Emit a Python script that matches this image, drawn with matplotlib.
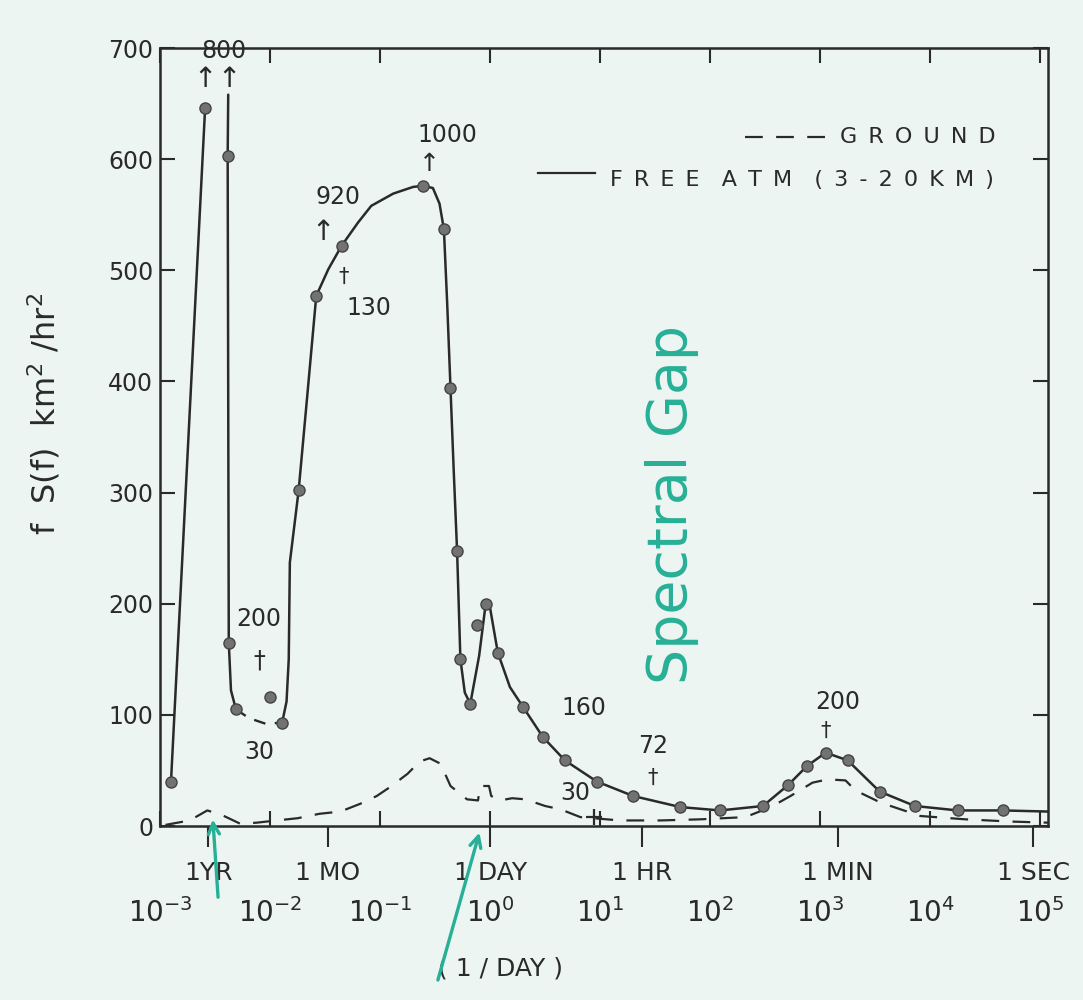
"""Wind speed spectrum (free atmosphere vs ground), redrawn from a scanned figure."""

import numpy as np
import matplotlib.pyplot as plt

# x values are log10 of frequency in 1/day, y values are f S(f) in km^2/hr^2
spike_up_logf = [-2.90, -2.59]
spike_up_val = [40, 646]
spike_down_logf = [-2.38, -2.385, -2.375, -2.355, -2.31]
spike_down_val = [658, 603, 165, 122, 105]
trough_logf = [-2.31, -2.19, -2.04, -1.89]
trough_val = [105, 97, 92, 93]

free_logf = [-1.89, -1.85, -1.83, -1.82, -1.74, -1.66, -1.58, -1.47, -1.35, -1.20,
             -1.08, -0.88, -0.70, -0.61, -0.52, -0.46, -0.42, -0.39, -0.36, -0.33,
             -0.30, -0.27, -0.23, -0.18, -0.10, -0.04, 0.00, 0.07, 0.18, 0.30,
             0.48, 0.68, 0.97, 1.30, 1.73, 2.09, 2.48, 2.71, 2.88, 3.05,
             3.25, 3.54, 3.86, 4.25, 4.66, 5.07]
free_val = [93, 112, 150, 237, 302, 389, 477, 501, 522, 543,
            558, 569, 575, 576, 574, 560, 537, 470, 394, 318,
            247, 150, 120, 110, 153, 200, 196, 156, 125, 107,
            80, 59, 40, 27, 17, 14, 18, 37, 54, 66,
            59, 31, 18, 14, 14, 13]

free_pts_logf = [-2.90, -2.59, -2.385, -2.375, -2.31, -1.89, -1.74, -1.58, -1.35, -0.61,
                 -0.42, -0.36, -0.30, -0.27, -0.18, -0.04, 0.07, 0.30, 0.48, 0.68,
                 0.97, 1.30, 1.73, 2.09, 2.48, 2.71, 2.88, 3.05, 3.25, 3.54,
                 3.86, 4.25, 4.66]
free_pts_val = [40, 646, 603, 165, 105, 93, 302, 477, 522, 576,
                537, 394, 247, 150, 110, 200, 156, 107, 80, 59,
                40, 27, 17, 14, 18, 37, 54, 66, 59, 31,
                18, 14, 14]
extra_pts_logf = [-2.00, -0.12]
extra_pts_val = [116, 181]

ground_logf = [-2.95, -2.73, -2.57, -2.44, -2.27, -2.12, -1.94, -1.75, -1.55, -1.36,
               -1.18, -1.03, -0.91, -0.75, -0.64, -0.55, -0.45, -0.36, -0.21, -0.11,
               -0.09, -0.01, 0.01, 0.09, 0.20, 0.32, 0.50, 0.64, 0.82, 1.18,
               1.55, 1.91, 2.32, 2.55, 2.73, 2.93, 3.07, 3.23, 3.32, 3.55,
               3.91, 4.32, 4.73, 5.07]
ground_val = [1, 5, 14, 10, 2, 3, 5, 7, 11, 13,
              20, 27, 35, 47, 58, 61, 56, 36, 24, 23,
              36, 36, 27, 23, 25, 24, 18, 15, 8, 5,
              5, 6, 8, 17, 27, 39, 42, 41, 32, 21,
              9, 6, 4, 3]
cross_logf = [0.94]
cross_val = [8]

period_freq = [1 / 365.25, 1 / 30.0, 1.0, 24.0, 1440.0, 86400.0]
period_labels = ["1YR", "1 MO", "1 DAY", "1 HR", "1 MIN", "1 SEC"]
decades = [-3, -2, -1, 0, 1, 2, 3, 4, 5]
y_ticks = [0, 100, 200, 300, 400, 500, 600, 700]

# handwritten values next to the curves: (text, log10 f, value, fontsize)
notes = [
    ("800", -2.42, 697, 17), ("\u2191", -2.59, 672, 20), ("\u2191", -2.375, 672, 20),
    ("920", -1.38, 566, 17), ("\u2191", -1.515, 534, 20),
    ("130", -1.10, 466, 17), ("\u2020", -1.33, 494, 15),
    ("1000", -0.39, 622, 17), ("\u2191", -0.55, 596, 18),
    ("200", -2.10, 186, 17), ("\u2020", -2.10, 149, 17),
    ("30", -2.10, 67, 17),
    ("160", 0.85, 106, 17), ("30", 0.77, 30, 17),
    ("72", 1.48, 72, 17), ("\u2020", 1.48, 43, 15),
    ("200", 3.16, 112, 17), ("\u2020", 3.05, 86, 15),
]

INK = "#2a2a2a"
PAPER = "#edf5f2"
GREEN = "#27b096"
EN = "\u2002"


def f(logs):
    return np.power(10.0, np.asarray(logs, dtype=float))


def spaced(words):
    return (EN * 2).join(EN.join(w) for w in words)


def main():
    plt.rcParams["font.family"] = ["DejaVu Sans"]
    plt.rcParams["text.color"] = INK
    plt.rcParams["axes.labelcolor"] = INK
    plt.rcParams["xtick.color"] = INK
    plt.rcParams["ytick.color"] = INK

    fig = plt.figure(figsize=(10.83, 10.0), dpi=100, facecolor=PAPER)
    ax = fig.add_axes([160 / 1083, 0.174, 888 / 1083, 0.778], facecolor=PAPER)

    line_kw = dict(color=INK, lw=1.8, solid_capstyle="round")
    mark_kw = dict(ls="none", marker="o", ms=8, mfc="#727272", mec="#444444", mew=1.0, zorder=4)

    ax.plot(f(spike_up_logf), spike_up_val, **line_kw)
    ax.plot(f(spike_down_logf), spike_down_val, **line_kw)
    ax.plot(f(trough_logf), trough_val, color=INK, lw=1.7, ls=(0, (5, 4)))
    ax.plot(f(free_logf), free_val, **line_kw)
    ax.plot(f(free_pts_logf), free_pts_val, **mark_kw)
    ax.plot(f(extra_pts_logf), extra_pts_val, **mark_kw)

    ax.plot(f(ground_logf), ground_val, color=INK, lw=1.6, ls=(0, (8, 6)))
    ax.plot(f(cross_logf), cross_val, ls="none", marker="+", ms=12, mew=1.6, color=INK)

    for text, lx, val, size in notes:
        ax.text(10 ** lx, val, text, fontsize=size, ha="center", va="center", color=INK)

    ax.set_xscale("log")
    ax.set_xlim(1e-3, 10 ** 5.07)
    ax.set_ylim(0, 700)
    # 1 DAY sits on 10^0, keep both ticks
    ax.xaxis.remove_overlapping_locs = False

    ax.set_yticks(y_ticks)
    ax.tick_params(axis="y", direction="in", length=11, width=1.5, labelsize=17,
                   pad=5, left=True, right=True)

    ax.set_xticks([10.0 ** d for d in decades],
                  labels=[f"$10^{{{d}}}$" for d in decades])
    ax.set_xticks(period_freq, labels=period_labels, minor=True)
    ax.tick_params(axis="x", which="major", direction="in", length=11, width=1.5,
                   labelsize=20, pad=52, top=True)
    ax.tick_params(axis="x", which="minor", direction="out", length=15, width=1.5,
                   labelsize=18, pad=10, top=False)

    for s in ax.spines.values():
        s.set_linewidth(1.8)
        s.set_color(INK)

    ax.set_ylabel("f  S(f)  km$^{2}$ /hr$^{2}$", fontsize=23, va="center")
    ax.yaxis.set_label_coords(-0.13, 0.53)
    ax.set_xlabel("( 1 / DAY )", fontsize=18, va="center")
    ax.xaxis.set_label_coords(0.383, -0.183)

    # hand-drawn style key in the upper right
    ax.plot([0.659, 0.749], [0.886, 0.886], transform=ax.transAxes, color=INK, lw=1.6,
            ls=(0, (8, 6)))
    ax.text(0.766, 0.886, spaced(["GROUND"]), transform=ax.transAxes, fontsize=16,
            va="center", ha="left")
    ax.plot([0.426, 0.490], [0.839, 0.839], transform=ax.transAxes, color=INK, lw=1.6)
    ax.text(0.507, 0.830, spaced(["FREE", "ATM", "(3-20KM)"]), transform=ax.transAxes,
            fontsize=16, va="center", ha="left")

    # green pen notes
    ax.text(0.577, 0.413, "Spectral Gap", transform=ax.transAxes, rotation=90,
            fontsize=40, color=GREEN, ha="center", va="center")
    xtr = ax.get_xaxis_transform()
    ax.annotate("", xy=(period_freq[0] * 1.1, 0.012), xycoords=xtr,
                xytext=(4, -60), textcoords="offset points",
                arrowprops=dict(arrowstyle="->,head_length=0.8,head_width=0.4",
                                color=GREEN, lw=2.4))
    ax.annotate("", xy=(10 ** -0.09, -0.005), xycoords=xtr,
                xytext=(-31, -110), textcoords="offset points",
                arrowprops=dict(arrowstyle="->,head_length=0.8,head_width=0.4",
                                color=GREEN, lw=2.4))

    fig.savefig("out.png", dpi=100, facecolor=PAPER)
    plt.close(fig)


if __name__ == "__main__":
    main()
